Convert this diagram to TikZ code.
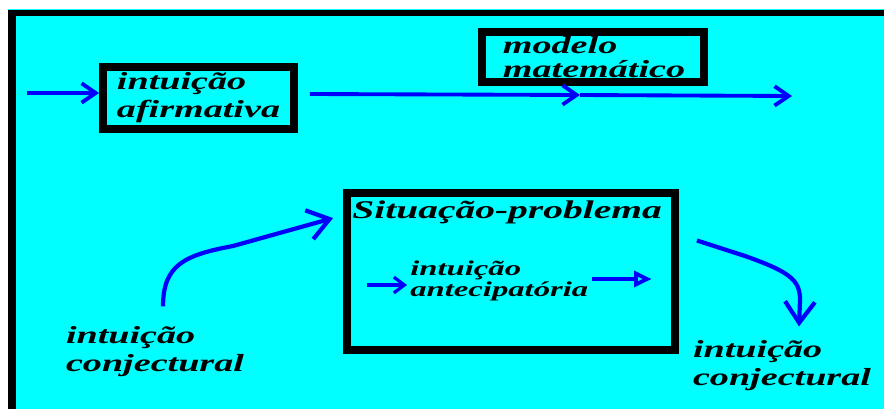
\documentclass[tikz,border=0pt]{standalone}
\usepackage{fontspec}
\newfontfamily\handfont[FakeStretch=1.55]{Liberation Serif}
\usetikzlibrary{arrows.meta,positioning,calc}
\definecolor{bgcyan}{HTML}{00FFFF}
\definecolor{flowblue}{HTML}{0000FF}

\tikzset{
  box/.style={draw=black, line width=4.5pt, align=left, inner sep=0pt},
  lbl/.style={font=\handfont\bfseries\itshape\fontsize{14}{16}\selectfont, align=left, inner sep=0pt},
  smalllbl/.style={font=\handfont\bfseries\itshape\fontsize{12}{12}\selectfont, align=left, inner sep=0pt},
  flow/.style={flowblue, line width=2.2pt, -{Straight Barb[length=8pt,width=11pt]}},
  bigflow/.style={flowblue, line width=2.4pt, -{Straight Barb[length=12pt,width=17pt]}},
  thinflow/.style={flowblue, line width=1.8pt, -{Straight Barb[length=6pt,width=9pt]}},
}

\begin{document}
\begin{tikzpicture}[x=0.02cm, y=-0.02cm]
\useasboundingbox (0,0) rectangle (884,409);
% background and frame
\fill[white] (0,0) rectangle (884,409);
\fill[bgcyan] (8,9) rectangle (884,409);
\fill[black] (8,10) rectangle (884,16);
\fill[black] (8,10) rectangle (16,409);

% --- upper row ---
\node[box, lbl, minimum width=3.82cm, minimum height=1.24cm] (afirm) at (198.5,98) {intuição\\afirmativa};
\node[box, minimum width=4.44cm, minimum height=1.0cm] (modelo) at (593,57) {};
\node[lbl, font=\handfont\bfseries\itshape\fontsize{14}{13.5}\selectfont] (modelotxt) at (594,57) {modelo\\matemático};

\coordinate (intail) at (27,93);
\coordinate (midtip) at (580,95);
\coordinate (outtip) at (792,96);
\draw[flow] (intail) -- (afirm.west |- intail);
\draw[flow] ($(afirm.east)+(12,-4)$) -- (midtip);
\draw[flow] (midtip) -- (outtip);

% --- lower row ---
\node[box, minimum width=6.56cm, minimum height=3.14cm] (sit) at (511,271.5) {};
\node[lbl, font=\handfont\bfseries\itshape\fontsize{14.5}{16}\selectfont, anchor=west] (sittitle) at ($(sit.north west)+(9,23)$) {Situação-problema};
\node[smalllbl, anchor=west] (antecip) at (410,281) {intuição\\antecipatória};

\draw[thinflow] ($(antecip.west)+(-43,4)$) -- ($(antecip.west)+(-3,4)$);
\draw[flowblue, line width=2.2pt, -{Triangle[open, length=10pt, width=9pt, line width=2.2pt]}] ($(antecip.east)+(3,-2)$) -- ++(60,0);

\node[lbl] (conjL) at (155,352) {intuição\\conjectural};
\node[lbl] (conjR) at (782,366) {intuição\\conjectural};

% curved arrows
\draw[bigflow] ($(conjL.north)+(8,-20)$) .. controls +(0,-42) and (185,255) .. (233,246) -- ($(sit.north west)+(-10,29)$);
\draw[bigflow] ($(sit.east)+(18,-31)$) -- (745,256) .. controls (790,272) and (800,280) .. (800,300) -- ($(conjR.north)+(17,-14)$);
\end{tikzpicture}
\end{document}
